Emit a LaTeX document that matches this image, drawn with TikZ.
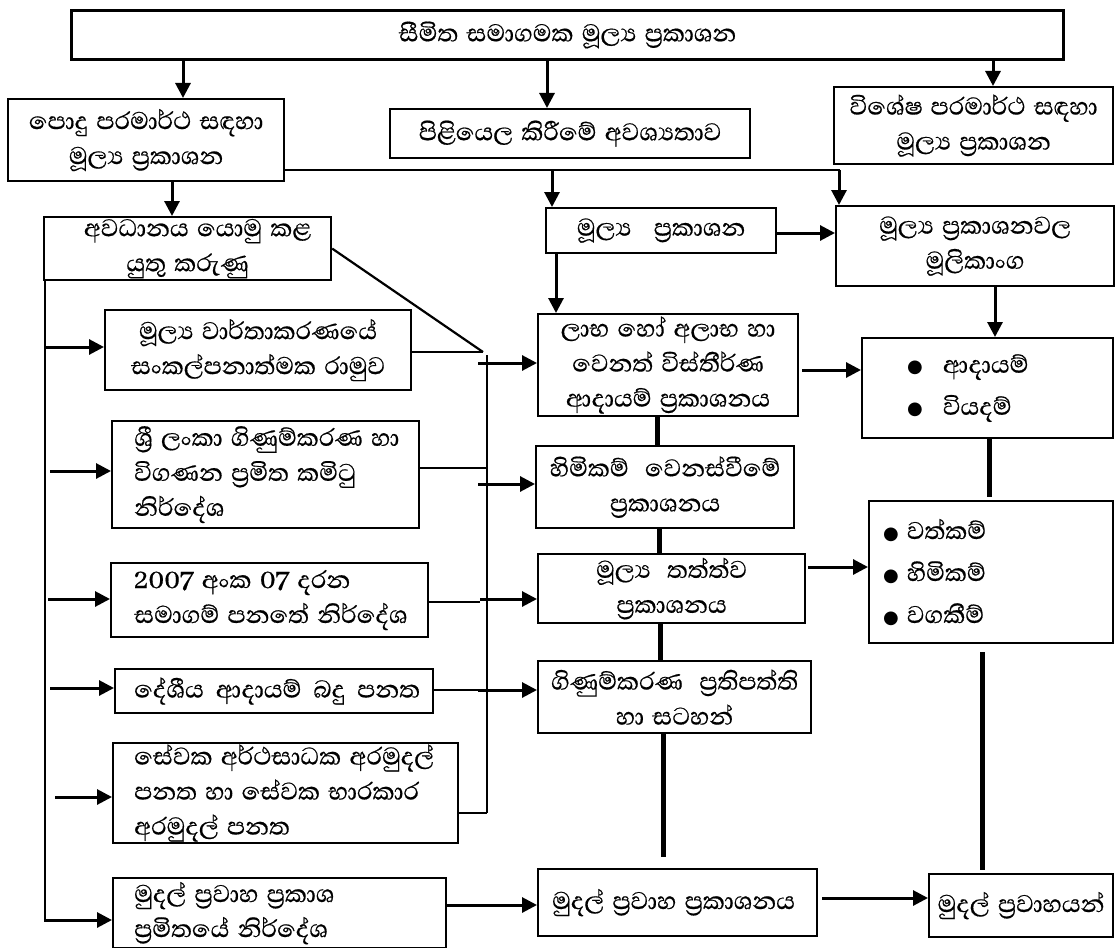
\documentclass[tikz,border=0pt]{standalone}
\usepackage{fontspec}
\setmainfont{Abhaya Libre}[Script=Sinhala,WordSpace=1.4,FakeBold=0.5]
\newfontfamily\bulfont{DejaVu Sans}
\usetikzlibrary{arrows.meta}
\newcommand{\bul}{{\bulfont\fontsize{18}{18}\selectfont ●}}
\newcommand{\wsp}{\hspace{12pt}}

\begin{document}
\begin{tikzpicture}[x=1pt,y=-1pt,
  box/.style={draw, line width=2.2pt, inner sep=0pt, anchor=north west, align=center,
              font=\fontsize{31}{35}\selectfont},
  txt/.style={inner sep=0pt, anchor=west, align=left, font=\fontsize{31}{35}\selectfont},
  arr/.style={line width=3pt, -{Triangle[length=15pt,width=15pt]}},
  thin/.style={line width=2.2pt},
  heavy/.style={line width=5pt},
  bus/.style={line width=2.4pt}]
\useasboundingbox (0,0) rectangle (1115,947);

% ---------- boxes ----------
\node[box, line width=3pt, minimum width=992pt, minimum height=49pt] (top) at (70,9)
  {සීමිත සමාගමක මූල්^^^^200dය ප්^^^^200dරකාශන};
\node[box, minimum width=276pt, minimum height=82pt] (podu) at (7,98)
  {පොදු පරමාර්ථ සඳහා\\ මූල්^^^^200dය ප්^^^^200dරකාශන};
\node[box, minimum width=360pt, minimum height=49pt] (pilisela) at (389,108)
  {පිළියෙල කිරීමේ අවශ්^^^^200dයතාව};
\node[box, minimum width=279pt, minimum height=77pt] (visesha) at (833,86)
  {විශේෂ පරමාර්ථ සඳහා\\ මූල්^^^^200dය ප්^^^^200dරකාශන};
\node[box, minimum width=287pt, minimum height=63pt] (avadhana) at (43,216)
  {\hspace*{20pt}අවධානය යොමු කළ\\ යුතු කරුණු};
\node[box, minimum width=230pt, minimum height=45pt] (mulpra) at (545,207)
  {මූල්^^^^200dය\hspace{14pt} ප්^^^^200dරකාශන};
\node[box, minimum width=278pt, minimum height=80pt] (mulang) at (835,205)
  {මූල්^^^^200dය ප්^^^^200dරකාශනවල\\ මූලිකාංග};
\node[box, minimum width=260pt, minimum height=102pt] (labha) at (537,313)
  {ලාභ හෝ අලාභ හා\\ වෙනත් විස්තීර්ණ\\ ආදායම් ප්^^^^200dරකාශනය};
\node[box, minimum width=251pt, minimum height=100pt] (adayam) at (861,337) {};
\node[box, minimum width=306pt, minimum height=80pt] (vartha) at (104,309)
  {මූල්^^^^200dය වාර්තාකරණයේ\\ සංකල්පනාත්මක රාමුව};
\node[box, minimum width=307pt, minimum height=107pt] (srilanka) at (111,420) {};
\node[box, minimum width=258pt, minimum height=82pt] (himikam) at (535,445)
  {හිමිකම්\hspace{8pt} වෙනස්වීමේ\\ ප්^^^^200dරකාශනය};
\node[box, minimum width=267pt, minimum height=69pt] (tattva) at (537,553)
  {මූල්^^^^200dය\hspace{8pt} තත්ත්ව\\ ප්^^^^200dරකාශනය};
\node[box, minimum width=244pt, minimum height=142pt] (watkam) at (868,500) {};
\node[box, minimum width=317pt, minimum height=74pt] (y2007) at (110,562) {};
\node[box, minimum width=318pt, minimum height=44pt] (deshiya) at (114,668) {};
\node[box, minimum width=273pt, minimum height=72pt] (ginum) at (537,660)
  {ගිණුම්කරණ\hspace{8pt} ප්^^^^200dරතිපත්ති\\ හා සටහන්};
\node[box, minimum width=345pt, minimum height=100pt] (sevaka) at (112,742) {};
\node[box, minimum width=333pt, minimum height=70pt] (mudalstd) at (112,877) {};
\node[box, minimum width=279pt, minimum height=67pt] (mudalpra) at (537,868)
  {\hspace*{-8pt}මුදල් ප්^^^^200dරවාහ ප්^^^^200dරකාශනය};
\node[box, minimum width=184pt, minimum height=63pt] (pravahayan) at (928,873)
  {මුදල් ප්^^^^200dරවාහයන්};

% ---------- left-aligned texts and lists ----------
\node[txt, xshift=23pt] (srilanka-t) at (srilanka.west)
  {ශ්^^^^200dරී ලංකා ගිණුම්කරණ හා\\ විගණන ප්^^^^200dරමිත කමිටු\\ නිර්දේශ};
\node[txt, xshift=24pt] (y2007-t) at (y2007.west)
  {2007 අංක 07 දරන\\ සමාගම් පනතේ නිර්දේශ};
\node[txt, xshift=20pt] (deshiya-t) at (deshiya.west)
  {දේශීය\wsp ආදායම්\wsp බදු\wsp පනත};
\node[txt, xshift=22pt] (sevaka-t) at (sevaka.west)
  {සේවක අර්ථසාධක අරමුදල්\\ පනත හා සේවක භාරකාර\\ අරමුදල් පනත};
\node[txt, xshift=22pt] (mudalstd-t) at (mudalstd.west)
  {මුදල් ප්^^^^200dරවාහ ප්^^^^200dරකාශ\\ ප්^^^^200dරමිතයේ නිර්දේශ};
\node[txt, xshift=46pt, font=\fontsize{31}{42}\selectfont] (adayam-t) at (adayam.west)
  {\bul\hspace{20pt}ආදායම්\\ \bul\hspace{20pt}වියදම්};
\node[txt, xshift=15pt, font=\fontsize{31}{42}\selectfont] (watkam-t) at (watkam.west)
  {\bul\hspace{8pt}වත්කම්\\ \bul\hspace{8pt}හිමිකම්\\ \bul\hspace{8pt}වගකීම්};

% ---------- arrows from the top box ----------
\coordinate (c1) at (183,0);
\coordinate (c2) at (547,0);
\coordinate (c3) at (993,0);
\draw[arr] (c1 |- top.south) -- (c1 |- podu.north);
\draw[arr] (c2 |- top.south) -- (c2 |- pilisela.north);
\draw[arr] (c3 |- top.south) -- (c3 |- visesha.north);

% ---------- line under the second row ----------
\coordinate (r1) at (840,170);
\coordinate (c4) at (552,170);
\coordinate (c5) at (839,170);
\draw[thin] (podu.east |- r1) -- (r1);
\draw[arr] (c4) -- (c4 |- mulpra.north);
\draw[arr] (c5) -- (c5 |- mulang.north);

\coordinate (c6) at (172,0);
\draw[arr] (c6 |- podu.south) -- (c6 |- avadhana.north);

% ---------- right part ----------
\coordinate (c7) at (0,233);
\draw[arr] (mulpra.east |- c7) -- (mulang.west |- c7);
\coordinate (c8) at (556,0);
\draw[arr] (c8 |- mulpra.south) -- (c8 |- labha.north);
\coordinate (c9) at (995,0);
\draw[arr] (c9 |- mulang.south) -- (c9 |- adayam.north);
\coordinate (c10) at (0,370);
\draw[arr, shorten <=3pt] (labha.east |- c10) -- (adayam.west |- c10);

\coordinate (k1) at (657,0);
\coordinate (k2) at (659,0);
\coordinate (k3) at (660,0);
\coordinate (k4) at (663,0);
\draw[heavy] (k1 |- labha.south) -- (k1 |- himikam.north);
\draw[heavy] (k2 |- himikam.south) -- (k2 |- tattva.north);
\draw[heavy] (k3 |- tattva.south) -- (k3 |- ginum.north);
\draw[heavy, shorten >=11pt] (k4 |- ginum.south) -- (k4 |- mudalpra.north);

\coordinate (c11) at (0,567);
\draw[arr, shorten <=2pt] (tattva.east |- c11) -- (watkam.west |- c11);
\coordinate (k5) at (989,0);
\coordinate (k6) at (982,0);
\draw[heavy, shorten >=3pt] (k5 |- adayam.south) -- (k5 |- watkam.north);
\draw[heavy, shorten <=8pt, shorten >=3pt] (k6 |- watkam.south) -- (k6 |- pravahayan.north);

\coordinate (c12) at (0,898);
\draw[arr, shorten <=4pt] (mudalpra.east |- c12) -- (pravahayan.west |- c12);
\coordinate (c13) at (0,905);
\draw[arr] (mudalstd.east |- c13) -- (mudalpra.west |- c13);

% ---------- middle bus ----------
\coordinate (d) at (483,352);
\coordinate (bt) at (487,355);
\coordinate (bb) at (487,813);
\draw[thin] (avadhana.east) -- (d);
\draw[thin] (vartha.east |- d) -- (d);
\draw[bus] (bt) -- (bb);
\coordinate (e1) at (0,468);
\coordinate (e2) at (480,602);
\coordinate (e3) at (0,690);
\draw[thin] (srilanka.east |- e1) -- (bt |- e1);
\draw[thin] (y2007.east |- e2) -- (e2);
\draw[thin] (deshiya.east |- e3) -- (bt |- e3);
\draw[thin] (sevaka.east |- bb) -- (bb);

\coordinate (g1) at (478,363);
\coordinate (g2) at (478,484);
\coordinate (g3) at (480,599);
\coordinate (g4) at (478,690);
\draw[arr] (g1) -- (g1 -| labha.west);
\draw[arr] (g2) -- (g2 -| himikam.west);
\draw[arr] (g3) -- (g3 -| tattva.west);
\draw[arr] (g4) -- (g4 -| ginum.west);

% ---------- left bus ----------
\coordinate (lb) at (45,922);
\draw[bus] (lb |- avadhana.south) -- (lb);
\coordinate (h1) at (45,347);
\coordinate (h2) at (50,471);
\coordinate (h3) at (48,599);
\coordinate (h4) at (50,688);
\coordinate (h5) at (55,797);
\coordinate (h6) at (45,920);
\draw[arr] (h1) -- (h1 -| vartha.west);
\draw[arr] (h2) -- (h2 -| srilanka.west);
\draw[arr] (h3) -- (h3 -| y2007.west);
\draw[arr] (h4) -- (h4 -| deshiya.west);
\draw[arr] (h5) -- (h5 -| sevaka.west);
\draw[arr] (h6) -- (h6 -| mudalstd.west);
\end{tikzpicture}
\end{document}
